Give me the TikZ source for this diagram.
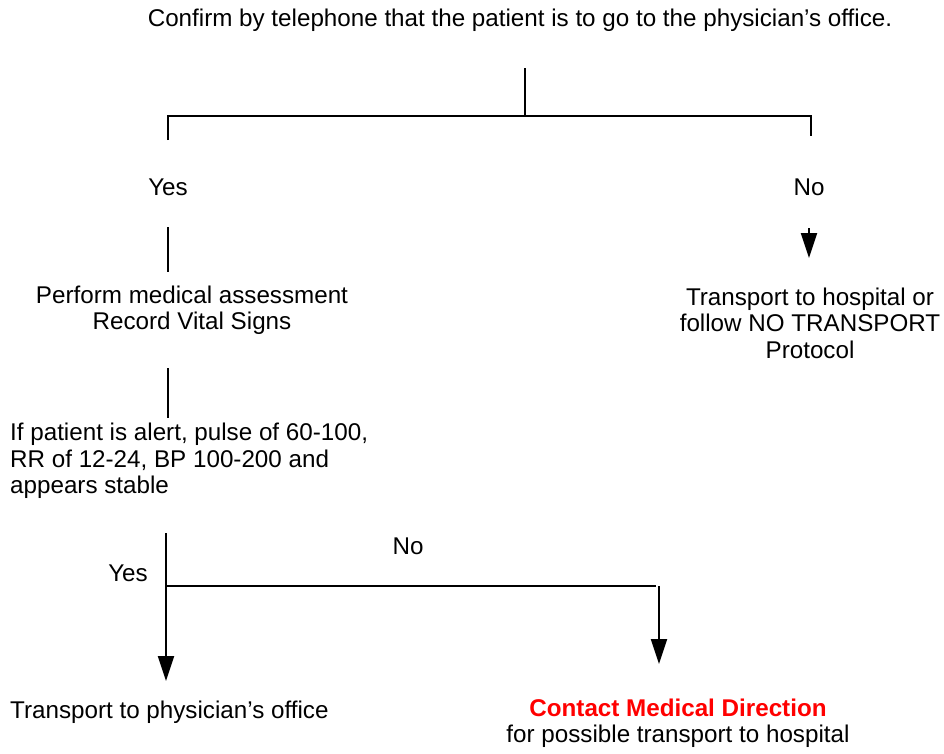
\documentclass[tikz,border=0pt]{standalone}
\usepackage{fontspec}
\setmainfont{Liberation Sans}
\usetikzlibrary{arrows.meta}
\definecolor{alertred}{RGB}{255,0,0}
\begin{document}
\begin{tikzpicture}[x=1pt,y=-1pt,
  txt/.style={inner sep=0pt, font=\fontsize{24.2}{26.5}\selectfont, align=center},
  link/.style={line width=2.2pt},
  arr/.style={link, -{Triangle[width=16pt,length=25pt]}}]
\useasboundingbox (0,0) rectangle (944,753);

% text blocks
\node[txt] (ask) at (520,20) {Confirm by telephone that the patient is to go to the physician’s office.};
\node[txt] (yes1) at (168,187) {Yes};
\node[txt] (no1) at (809,187) {No};
\node[txt] (assess) at (192,310) {Perform medical assessment\\Record Vital Signs};
\node[txt] (hosp) at (810,323) {Transport to hospital or\\follow NO TRANSPORT\\Protocol};
\node[txt, align=left, anchor=west] (stable) at (10,461) {If patient is alert, pulse of 60-100,\\RR of 12-24, BP 100-200 and\\appears stable};
\node[txt] (yes2) at (128,573) {Yes};
\node[txt] (no2) at (408,546) {No};
\node[txt, anchor=west] (office) at (10,712) {Transport to physician’s office};
\node[txt] (direct) at (678,723) {\textcolor{alertred}{\textbf{Contact Medical Direction}}\\for possible transport to hospital};

% junction and end points
\coordinate (q0) at (525,68);
\coordinate (q1) at (525,116);
\coordinate (qL) at (168,116);
\coordinate (qR) at (811,116);
\coordinate (qLe) at (168,140);
\coordinate (qRe) at (811,136);
\coordinate (y0) at (168,227);
\coordinate (y1) at (168,272);
\coordinate (n0) at (809,228);
\coordinate (n1) at (809,258);
\coordinate (a0) at (168,368);
\coordinate (a1) at (168,418);
\coordinate (s0) at (166,533);
\coordinate (s1) at (166,586);
\coordinate (s2) at (166,681);
\coordinate (h1) at (656,586);
\coordinate (d0) at (659,586);
\coordinate (d1) at (659,664);

% connectors
\draw[link] (q0) -- (q1);
\draw[link] (qLe) -- (qL) -- (qR) -- (qRe);
\draw[link] (y0) -- (y1);
\draw[arr] (n0) -- (n1);
\draw[link] (a0) -- (a1);
\draw[arr] (s0) -- (s2);
\draw[link] (s1) -- (h1);
\draw[arr] (d0) -- (d1);
\end{tikzpicture}
\end{document}
